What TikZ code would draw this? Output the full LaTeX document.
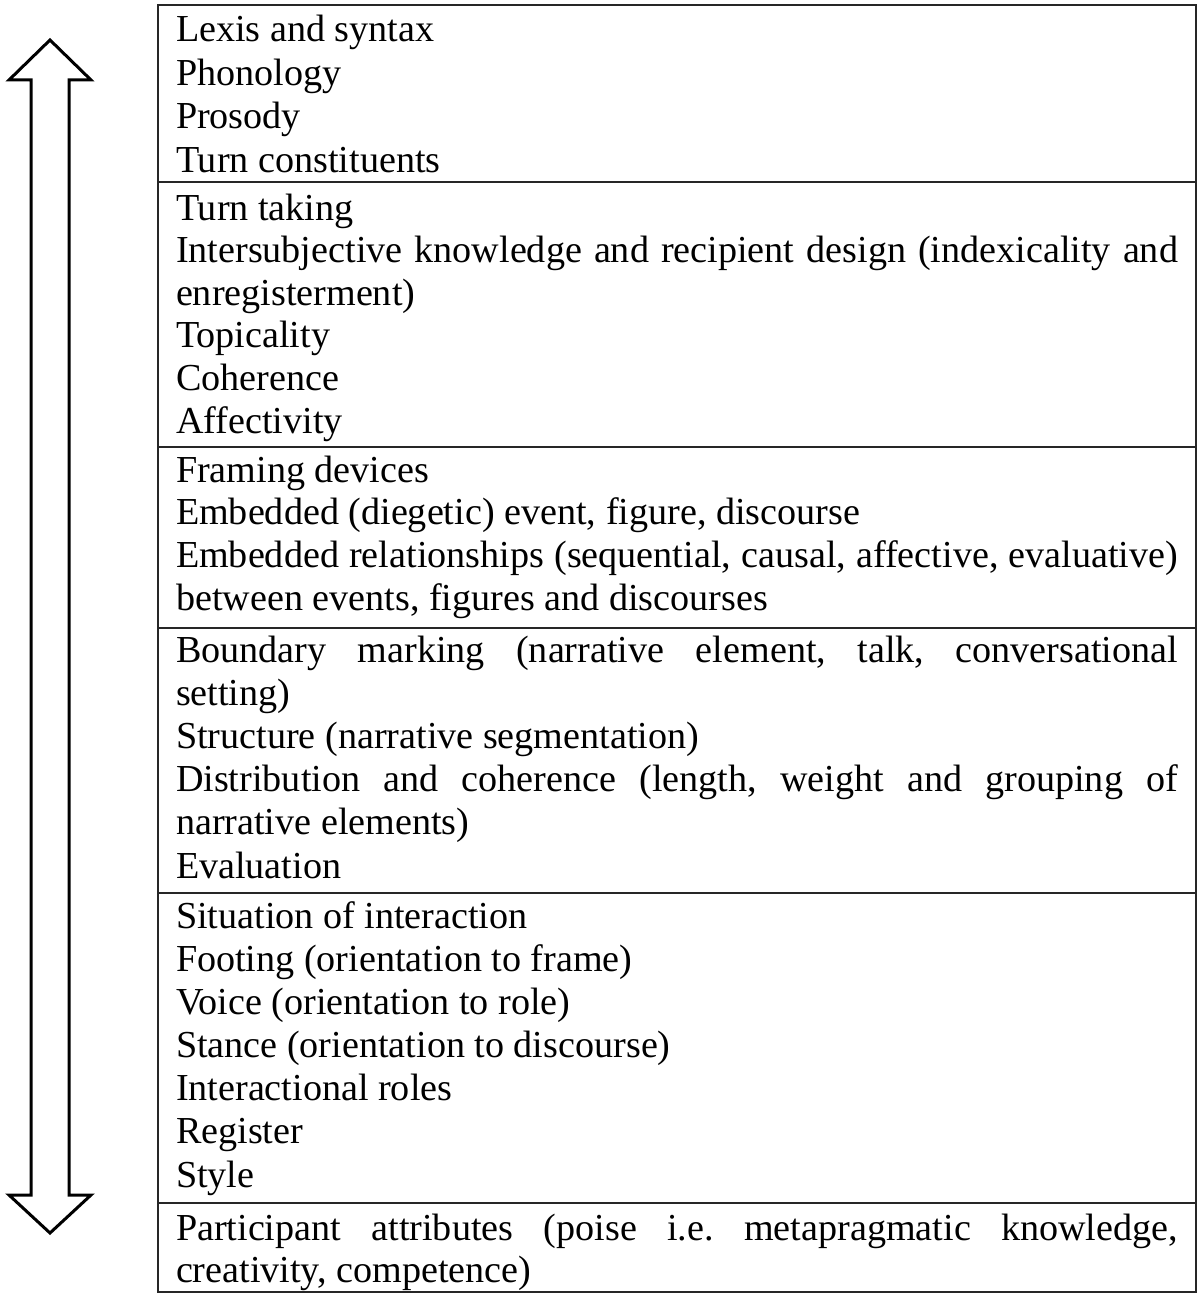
\documentclass[tikz,border=0pt]{standalone}
\usepackage{fontspec}
\setmainfont{Liberation Serif}
\frenchspacing
\tikzset{
  txt/.style={anchor=base west, inner sep=0pt, outer sep=0pt, font=\fontsize{19.07}{22}\selectfont},
  rule/.style={line width=1.3pt, draw=black!85},
  dblarrow/.style={line width=1.5pt, draw=black, fill=white, line join=miter}
}
\newcommand{\jl}[1]{\makebox[501pt][s]{#1}}
\begin{document}
\begin{tikzpicture}[x=0.5pt, y=-0.5pt]
\useasboundingbox[fill=white] (0,0) rectangle (1200,1295);
% double arrow
\draw[dblarrow] (50,40) -- (91,80) -- (69,80) -- (69,1195) -- (91,1195) -- (50,1233)
  -- (9,1195) -- (31,1195) -- (31,80) -- (9,80) -- cycle;
% table
\draw[rule] (158,5) rectangle (1196,1292);
\foreach \yy in {182,447,628,893,1203} \draw[rule] (158,\yy) -- (1196,\yy);
% row 1
\node[txt] (a1) at (176,42) {Lexis and syntax};
\node[txt] (a2) at (176,85.3) {Phonology};
\node[txt] (a3) at (176,128.6) {Prosody};
\node[txt] (a4) at (176,172) {Turn constituents};
% row 2
\node[txt] (b1) at (176,220) {Turn taking};
\node[txt] (b2) at (176,262.6) {\jl{Intersubjective knowledge and recipient design (indexicality and}};
\node[txt] (b3) at (176,305.2) {enregisterment)};
\node[txt] (b4) at (176,347.8) {Topicality};
\node[txt] (b5) at (176,390.4) {Coherence};
\node[txt] (b6) at (176,433) {Affectivity};
% row 3
\node[txt] (c1) at (176,482) {Framing devices};
\node[txt] (c2) at (176,524.7) {Embedded (diegetic) event, figure, discourse};
\node[txt] (c3) at (176,567.3) {\jl{Embedded relationships (sequential, causal, affective, evaluative)}};
\node[txt] (c4) at (176,610) {between events, figures and discourses};
% row 4
\node[txt] (d1) at (176,662) {\jl{Boundary marking (narrative element, talk, conversational}};
\node[txt] (d2) at (176,705.2) {setting)};
\node[txt] (d3) at (176,748.4) {Structure (narrative segmentation)};
\node[txt] (d4) at (176,791.6) {\jl{Distribution and coherence (length, weight and grouping of}};
\node[txt] (d5) at (176,834.8) {narrative elements)};
\node[txt] (d6) at (176,878) {Evaluation};
% row 5
\node[txt] (e1) at (176,928) {Situation of interaction};
\node[txt] (e2) at (176,971.2) {Footing (orientation to frame)};
\node[txt] (e3) at (176,1014.3) {Voice (orientation to role)};
\node[txt] (e4) at (176,1057.5) {Stance (orientation to discourse)};
\node[txt] (e5) at (176,1100.7) {Interactional roles};
\node[txt] (e6) at (176,1143.8) {Register};
\node[txt] (e7) at (176,1187) {Style};
% row 6
\node[txt] (f1) at (176,1240) {\jl{Participant attributes (poise i.e. metapragmatic knowledge,}};
\node[txt] (f2) at (176,1282) {creativity, competence)};
\end{tikzpicture}
\end{document}
